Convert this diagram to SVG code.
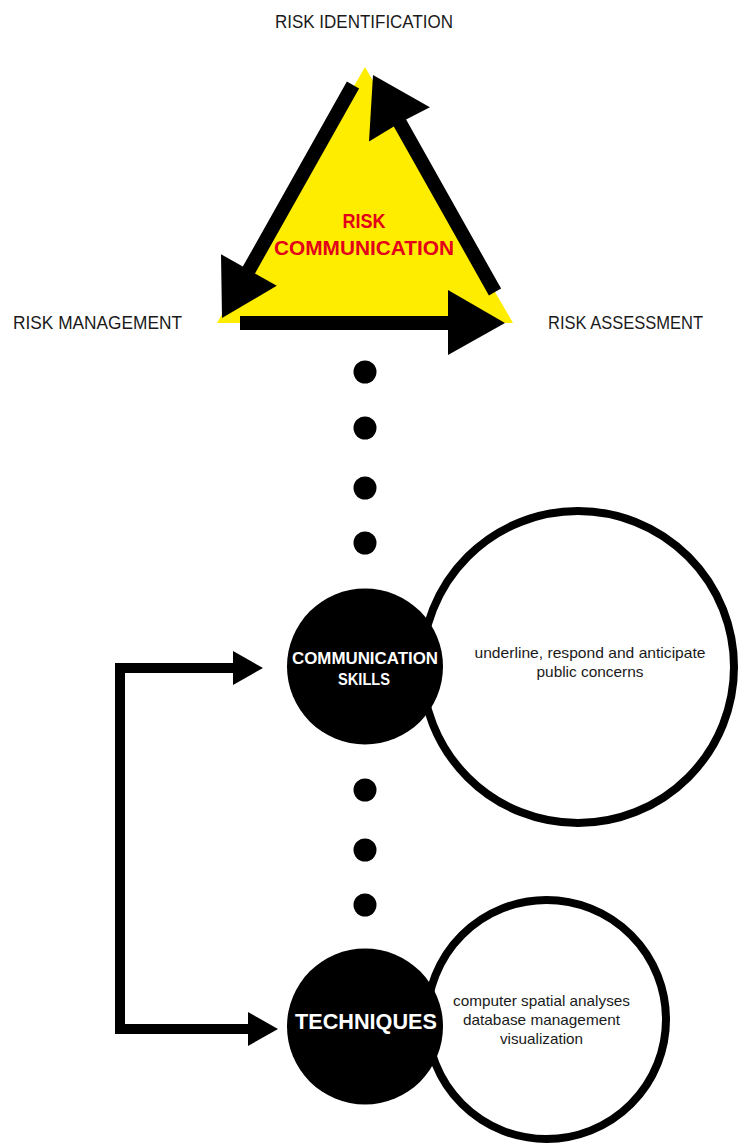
<svg xmlns="http://www.w3.org/2000/svg" width="739" height="1144" viewBox="0 0 739 1144">
<style>
.lbl{font-family:"Liberation Sans",Arial,sans-serif;font-size:18px;fill:#1a1a1a}
.red{font-family:"Liberation Sans",Arial,sans-serif;font-weight:bold;font-size:20.5px;fill:#e2001a;text-anchor:middle}
.wht{font-family:"Liberation Sans",Arial,sans-serif;font-weight:bold;fill:#ffffff;text-anchor:middle}
.body{font-family:"Liberation Sans",Arial,sans-serif;font-size:14.5px;fill:#1a1a1a;text-anchor:middle}
.dot{fill:#000}
.ring{fill:#fff;stroke:#000;stroke-width:8}
.core{fill:#000}
.arr{fill:#000}
</style>
<defs>
<marker id="head" markerUnits="userSpaceOnUse" markerWidth="32" markerHeight="36" viewBox="0 -18 32 36" refX="0" refY="0" orient="auto-start-reverse">
<path d="M0,-17 L30,0 L0,17 z" fill="#000"/>
</marker>
</defs>

<g id="triangle">
<polygon points="365,67 217,323 513,323" fill="#ffed00"/>
<text class="red" x="364" y="228" textLength="43" lengthAdjust="spacingAndGlyphs">RISK</text>
<text class="red" x="364" y="255" textLength="180" lengthAdjust="spacingAndGlyphs">COMMUNICATION</text>
</g>

<g id="labels">
<text class="lbl" x="364" y="28" text-anchor="middle" textLength="178" lengthAdjust="spacingAndGlyphs">RISK IDENTIFICATION</text>
<text class="lbl" x="13" y="329" textLength="169" lengthAdjust="spacingAndGlyphs">RISK MANAGEMENT</text>
<text class="lbl" x="548" y="329" textLength="155" lengthAdjust="spacingAndGlyphs">RISK ASSESSMENT</text>
</g>

<g id="cycle-arrows">
<polygon class="arr" points="346.9,81.6 359.1,88.4 255.0,273.4 276.8,285.7 222,318 221.0,254.3 242.8,266.6"/>
<polygon class="arr" points="488.9,295.4 501.1,288.6 406.1,119.5 429.9,107.3 373,75 369.0,141.6 393.8,126.4"/>
<polygon class="arr" points="240,316 448,316 448,290 505,323 448,355 448,330 240,330"/>
</g>

<g id="dots">
<circle class="dot" cx="365" cy="372" r="11.5"/>
<circle class="dot" cx="365" cy="428" r="11.5"/>
<circle class="dot" cx="365" cy="488" r="11.5"/>
<circle class="dot" cx="365" cy="543" r="11.5"/>
<circle class="dot" cx="365" cy="790" r="11.5"/>
<circle class="dot" cx="365" cy="850" r="11.5"/>
<circle class="dot" cx="365" cy="905" r="11.5"/>
</g>

<g id="communication-skills">
<circle class="ring" cx="578" cy="667" r="156"/>
<circle class="core" cx="365" cy="666.5" r="78"/>
<text class="wht" x="365" y="664" font-size="17" textLength="146" lengthAdjust="spacingAndGlyphs">COMMUNICATION</text>
<text class="wht" x="364" y="685" font-size="17" textLength="52" lengthAdjust="spacingAndGlyphs">SKILLS</text>
<text class="body" x="590" y="658" textLength="231" lengthAdjust="spacingAndGlyphs">underline, respond and anticipate</text>
<text class="body" x="590" y="677" textLength="107" lengthAdjust="spacingAndGlyphs">public concerns</text>
</g>

<g id="techniques">
<circle class="ring" cx="546.5" cy="1019.5" r="119.5"/>
<circle class="core" cx="365" cy="1026.5" r="78"/>
<text class="wht" x="366" y="1029" font-size="22" textLength="142" lengthAdjust="spacingAndGlyphs">TECHNIQUES</text>
<text class="body" x="541.5" y="1006" textLength="177" lengthAdjust="spacingAndGlyphs">computer spatial analyses</text>
<text class="body" x="541.5" y="1025" textLength="157" lengthAdjust="spacingAndGlyphs">database management</text>
<text class="body" x="541.5" y="1044" textLength="83" lengthAdjust="spacingAndGlyphs">visualization</text>
</g>

<g id="connectors">
<path d="M233,668 H120 V1029 H248" fill="none" stroke="#000" stroke-width="10" stroke-linejoin="miter" marker-start="url(#head)" marker-end="url(#head)"/>
</g>
</svg>
